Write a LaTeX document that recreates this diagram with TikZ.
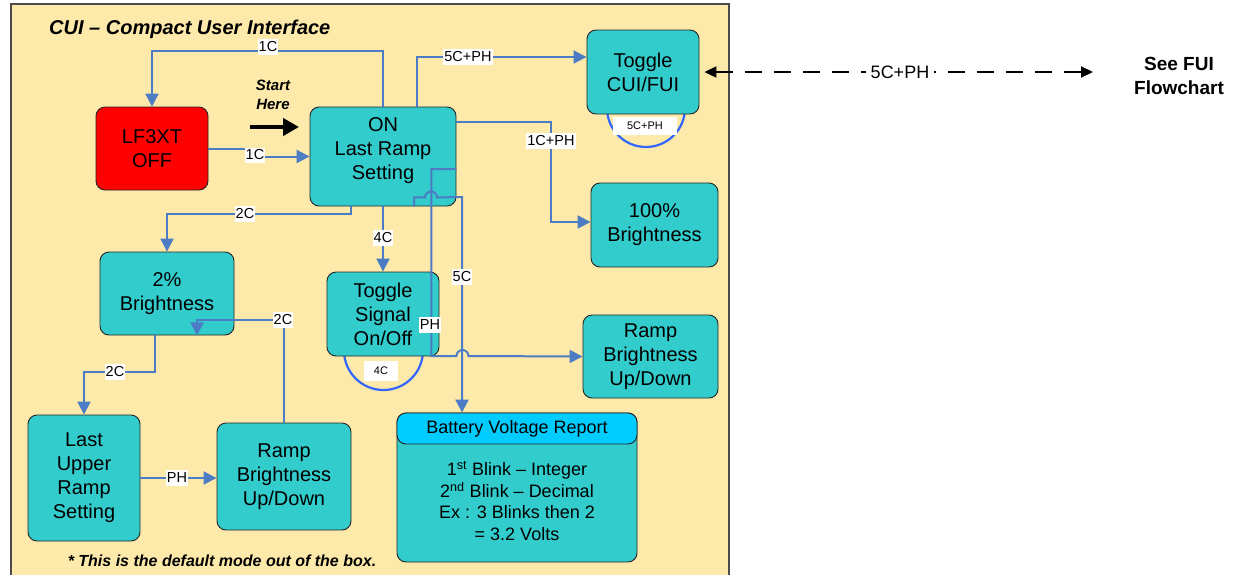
\documentclass[tikz,border=0pt]{standalone}
\usepackage{fontspec}
\setmainfont{Liberation Sans}
\usetikzlibrary{arrows.meta,backgrounds}
\definecolor{panelbg}{RGB}{253,233,169}
\definecolor{tealbox}{RGB}{51,204,204}
\definecolor{headcyan}{RGB}{0,204,255}
\definecolor{offred}{RGB}{255,0,0}
\definecolor{connblue}{RGB}{76,124,196}
\definecolor{loopblue}{RGB}{51,102,255}
\tikzset{
  box/.style={draw=black!85, line width=0.9pt, fill=tealbox, rounded corners=9pt,
    align=center, inner sep=0pt, font=\fontsize{20}{24}\selectfont},
  conn/.style={draw=connblue, line width=2pt, -{Triangle[length=13pt,width=13pt]}},
  lbl/.style={fill=white, inner sep=1.2pt, text height=10.5pt, text depth=2.5pt,
    font=\fontsize{14.5}{16}\selectfont},
  looparc/.style={draw=loopblue, line width=2.2pt},
  looplbl/.style={fill=white, inner sep=0pt, font=\fontsize{11}{13}\selectfont},
  plaintext/.style={inner sep=0pt, align=center}
}
\begin{document}
\begin{tikzpicture}[x=1pt,y=-1pt]
\useasboundingbox (0,0) rectangle (1243,574);
\clip (0,0) rectangle (1243,574);
\begin{pgfonlayer}{background}
  \draw[draw=black!70, line width=1.3pt, fill=panelbg] (11,4) rectangle (729,600);
\end{pgfonlayer}

% titles and notes
\node[plaintext, anchor=west, font=\fontsize{20}{22}\selectfont\bfseries\itshape] (title) at (49,29) {CUI – Compact User Interface};
\node[plaintext, font=\fontsize{15}{19}\selectfont\bfseries\itshape] (start) at (273,95) {Start\\Here};
\node[plaintext, font=\fontsize{16}{19}\selectfont\bfseries\itshape] (foot) at (222,561) {* This is the default mode out of the box.};
\node[plaintext, font=\fontsize{19}{24}\selectfont\bfseries] (fui) at (1179,76) {See FUI\\Flowchart};

% nodes
\node[box, fill=offred, minimum width=112pt, minimum height=83pt] (lf) at (152,148.5) {LF3XT\\OFF};
\node[box, minimum width=146pt, minimum height=99pt] (on) at (383,156.5) {};
\node[plaintext, font=\fontsize{20}{24}\selectfont] (ontext) at (383,150.5) {ON\\Last Ramp\\Setting};
\node[box, minimum width=112pt, minimum height=84pt] (cuifui) at (643,72) {Toggle\\CUI/FUI};
\node[box, minimum width=127pt, minimum height=84pt] (full) at (654.5,225) {100\%\\Brightness};
\node[box, minimum width=135pt, minimum height=83pt] (rampR) at (650.5,356.5) {Ramp\\Brightness\\Up/Down};
\node[box, minimum width=112pt, minimum height=84pt] (sig) at (383,314) {Toggle\\Signal\\On/Off};
\node[box, minimum width=134pt, minimum height=83pt] (two) at (167,293.5) {2\%\\Brightness};
\node[box, minimum width=112pt, minimum height=126pt] (last) at (84,478) {Last\\Upper\\Ramp\\Setting};
\node[box, minimum width=134pt, minimum height=107pt] (rampL) at (284,476.5) {Ramp\\Brightness\\Up/Down};
\node[box, minimum width=240pt, minimum height=149pt] (batt) at (517,487.5) {};
\node[box, fill=headcyan, minimum width=240pt, minimum height=31pt, font=\fontsize{18}{22}\selectfont] (batthead) at (517,428.5) {Battery Voltage Report};
\node[plaintext, font=\fontsize{18}{21.5}\selectfont] (batttext) at (517,501) {1\textsuperscript{st} Blink – Integer\\2\textsuperscript{nd} Blink – Decimal\\Ex : 3 Blinks then 2\\= 3.2 Volts};

% self loops (behind nodes)
\begin{pgfonlayer}{background}
  \draw[looparc] ([xshift=3pt,yshift=-36pt]cuifui.center) circle[radius=39pt];
  \draw[looparc] ([xshift=0.5pt,yshift=-36.5pt]sig.center) circle[radius=39.5pt];
\end{pgfonlayer}
\node[looplbl, minimum width=64pt, minimum height=18pt] (l5cph) at (645,126) {5C+PH};
\node[looplbl, minimum width=34pt, minimum height=20pt] (l4cloop) at (381,371) {4C};

% connectors
\draw[conn] (on.north) -- ++(0,-56) -| (lf.north);
\node[lbl] (l1a) at (268,47) {1C};

\draw[conn] (lf.east) -- ++(42,0) |- (on.west);
\node[lbl] (l1b) at (255,155.5) {1C};

\draw[conn] ([xshift=34pt]on.north) |- ([yshift=15pt]cuifui.west);
\node[lbl] (l5a) at (468,57) {5C+PH};

\draw[conn] ([yshift=34.5pt]on.east) -- ++(95,0) |- ([yshift=3pt]full.west);
\node[lbl] (l1ph) at (551,141) {1C+PH};

\draw[conn] (on.south) -- (sig.north);
\node[lbl] (l4c) at (383,238) {4C};

\draw[conn] ([xshift=-32pt]on.south) -- ++(0,8) -| (two.north);
\node[lbl] (l2a) at (245,214) {2C};

\coordinate (c5) at (462,197);
\draw[conn] ([xshift=31pt]on.south) -- ++(0,-9) -- ++(11,0) arc[start angle=180, end angle=0, radius=6pt] -- (c5) -- (c5 |- batthead.north);
\node[lbl] (l5c) at (462,277) {5C};

\draw[conn] ([yshift=-12.5pt]on.east) -- ++(-25,0) -- ++(0,187) -- ++(25,0) arc[start angle=180, end angle=0, radius=6pt] -- (rampR.west);
\node[lbl] (lph1) at (430,325) {PH};

\draw[conn] ([xshift=-12pt]two.south) -- ++(0,37) -| (last.north);
\node[lbl] (l2b) at (115,372) {2C};

\draw[conn] (last.east) -- (last.east -| rampL.west);
\node[lbl] (lph2) at (177,478) {PH};

\draw[conn] (rampL.north) -- ++(0,-103) -| ([xshift=30pt]two.south);
\node[lbl] (l2c) at (283,320) {2C};

% start arrow
\coordinate (startA) at (250,127);
\coordinate (startB) at (299,127);
\draw[line width=4pt, -{Triangle[length=16pt,width=17pt]}] (startA) -- (startB);

% dashed link to FUI
\coordinate (fuiend) at (1093,72);
\draw[line width=2pt, dash pattern=on 17pt off 12pt, {Triangle[length=12pt,width=11pt]}-{Triangle[length=12pt,width=11pt]}] ([xshift=5pt]cuifui.east) -- (fuiend);
\node[fill=white, inner sep=5pt, font=\fontsize{18}{20}\selectfont] (ldash) at (900,72) {5C+PH};
\end{tikzpicture}
\end{document}
